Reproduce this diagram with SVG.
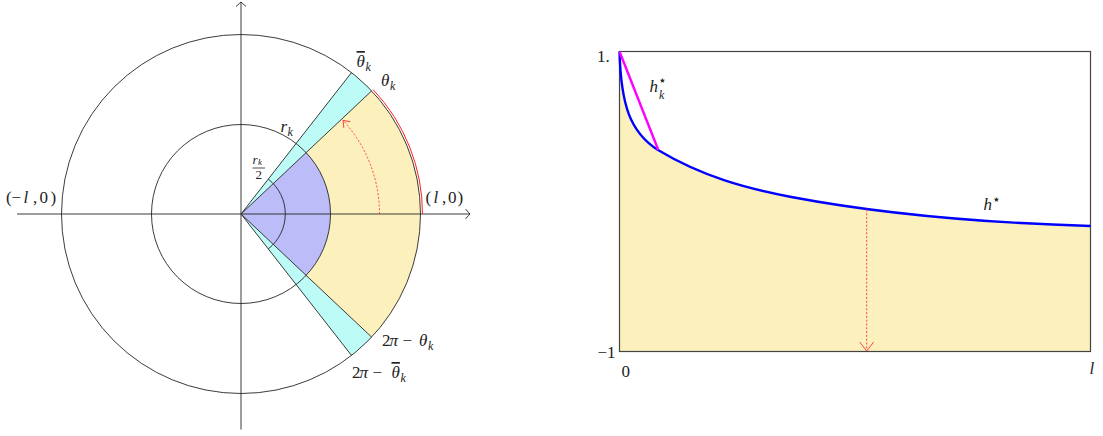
<svg xmlns="http://www.w3.org/2000/svg" width="1103" height="436" viewBox="0 0 1103 436">
<defs>
<style>
.ln{fill:none;stroke:#262626;stroke-width:0.9}
.t{font-family:"Liberation Serif","Times New Roman",serif;font-size:17px;fill:#222}
.i{font-style:italic}
.s{font-size:12px}
.ov{text-decoration:overline}
.st{font-family:"DejaVu Sans",sans-serif;font-size:14px}
.rd{fill:none;stroke:#f44;stroke-width:1;stroke-dasharray:2 1.8}
</style>
<marker id="ax" markerUnits="userSpaceOnUse" viewBox="-8 -8 10 16" refX="0" refY="0" markerWidth="10" markerHeight="16" orient="auto" overflow="visible">
<path d="M-4.5,-5 Q-1.2,-1.2 0,0 Q-1.2,1.2 -4.5,5" fill="none" stroke="#262626" stroke-width="0.9"/>
</marker>
<marker id="ra" markerUnits="userSpaceOnUse" viewBox="-10 -10 12 20" refX="0" refY="0" markerWidth="12" markerHeight="20" orient="auto" overflow="visible">
<path d="M-6,-4.5 L0,0 L-6,4.5" fill="none" stroke="#f44" stroke-width="1"/>
</marker>
<marker id="rb" markerUnits="userSpaceOnUse" viewBox="-12 -12 14 24" refX="0" refY="0" markerWidth="14" markerHeight="24" orient="auto" overflow="visible">
<path d="M-9,-7 L0,0 L-9,7" fill="none" stroke="#f44" stroke-width="1"/>
</marker>
</defs>
<rect width="1103" height="436" fill="#fff"/>

<g id="left-figure">
<g id="fills">
<path d="M241,214 L351.52,72.55 A179.5,179.5 0 0 1 371.64,90.9 Z" fill="#bcfbf6"/>
<path d="M241,214 L371.64,337.1 A179.5,179.5 0 0 1 351.52,355.45 Z" fill="#bcfbf6"/>
<path d="M306.14,152.62 L371.64,90.9 A179.5,179.5 0 0 1 371.64,337.1 L306.14,275.38 A89.5,89.5 0 0 0 306.14,152.62 Z" fill="#fcf0bd"/>
<path d="M241,214 L306.14,152.62 A89.5,89.5 0 0 1 306.14,275.38 Z" fill="#bcbcf8"/>
</g>
<g id="axes">
<path class="ln" d="M17,214 L470,214" marker-end="url(#ax)"/>
<path class="ln" d="M241,429.5 L241,2" marker-end="url(#ax)"/>
</g>
<g id="circles">
<circle class="ln" cx="241" cy="214" r="179.5"/>
<circle class="ln" cx="241" cy="214" r="89.5"/>
<path class="ln" d="M268.28,179.09 A44.3,44.3 0 0 1 268.28,248.91"/>
</g>
<g id="rays">
<path class="ln" d="M241,214 L371.64,90.9"/>
<path class="ln" d="M241,214 L351.52,72.55"/>
<path class="ln" d="M241,214 L371.64,337.1"/>
<path class="ln" d="M241,214 L351.52,355.45"/>
</g>
<g id="red-marks">
<path d="M422.5,214 A181.5,181.5 0 0 0 373.1,89.53" fill="none" stroke="#f22" stroke-width="1"/>
<path class="rd" d="M379.5,214 A138.5,138.5 0 0 0 343.1,120.4" marker-end="url(#ra)"/>
</g>
<g id="left-labels">
<text class="t" y="67"><tspan class="i ov" x="356.5">θ</tspan><tspan class="i s" x="365.5" y="71">k</tspan></text>
<text class="t" y="86"><tspan class="i" x="381">θ</tspan><tspan class="i s" x="390" y="90">k</tspan></text>
<text class="t" y="131.5"><tspan class="i" x="280.5">r</tspan><tspan class="i s" x="287.5" y="135.5">k</tspan></text>
<text class="t" style="font-size:13px" y="163.5"><tspan class="i" x="252.5">r</tspan><tspan class="i" style="font-size:9px" x="258" y="165">k</tspan></text>
<line x1="252.5" y1="168" x2="265" y2="168" stroke="#222" stroke-width="0.8"/>
<text class="t" style="font-size:13px" x="255.5" y="178.5">2</text>
<text class="t" y="203"><tspan x="425.5">(</tspan><tspan class="i" x="433.5">l</tspan><tspan x="442">,</tspan><tspan x="448">0</tspan><tspan x="457.5">)</tspan></text>
<text class="t" y="203"><tspan x="6">(</tspan><tspan x="11.5">−</tspan><tspan class="i" x="23.5">l</tspan><tspan x="33">,</tspan><tspan x="39.5">0</tspan><tspan x="50.5">)</tspan></text>
<text class="t" y="346"><tspan x="382">2</tspan><tspan class="i" x="389.5">π</tspan><tspan x="402.5">−</tspan><tspan class="i" x="419">θ</tspan><tspan class="i s" x="428" y="350">k</tspan></text>
<text class="t" y="378"><tspan x="352">2</tspan><tspan class="i" x="359.5">π</tspan><tspan x="372.5">−</tspan><tspan class="i ov" x="391.5">θ</tspan><tspan class="i s" x="400.5" y="382">k</tspan></text>
</g>
</g>

<g id="right-figure">
<path id="area" d="M619.5,51.5 C621,105 630,132 658,150 C702,176.4 746,188.3 790,196.7 C890,215.7 990,223 1090.5,226 L1090.5,351.5 L619.5,351.5 Z" fill="#fcf0bd"/>
<rect id="frame" x="619.5" y="51.5" width="471" height="300" fill="none" stroke="#444" stroke-width="1.2"/>
<path id="h-star" d="M619.5,51.5 C621,105 630,132 658,150 C702,176.4 746,188.3 790,196.7 C890,215.7 990,223 1090.5,226" fill="none" stroke="#0000ff" stroke-width="2.4"/>
<path id="h-star-k" d="M619.5,51.5 L658.3,150" fill="none" stroke="#ff00ff" stroke-width="2.4"/>
<path id="drop" class="rd" d="M866.7,209.5 L866.7,351" marker-end="url(#rb)"/>
<g id="right-labels">
<text class="t" x="597" y="62">1.</text>
<text class="t" x="597.5" y="357.5">−1</text>
<text class="t" x="621.5" y="377">0</text>
<text class="t i" x="1089.5" y="374">l</text>
<text class="t" y="92"><tspan class="i" x="649.5">h</tspan><tspan class="st" x="658" y="85">⋆</tspan><tspan class="i s" x="659" y="98.5">k</tspan></text>
<text class="t" y="210"><tspan class="i" x="983.5">h</tspan><tspan class="st" x="992" y="204">⋆</tspan></text>
</g>
</g>
</svg>
